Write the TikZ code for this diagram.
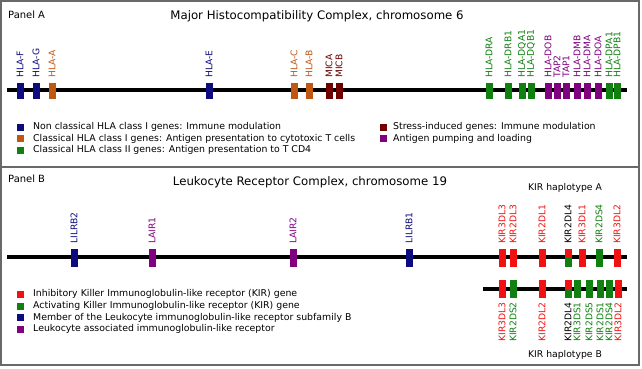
\documentclass[tikz,border=0pt]{standalone}
\usepackage{fontspec}
\setmainfont{DejaVu Sans}
\definecolor{cblue}{RGB}{12,12,128}
\definecolor{corange}{RGB}{192,88,20}
\definecolor{cgreen}{RGB}{16,128,16}
\definecolor{cmaroon}{RGB}{110,0,0}
\definecolor{cpurple}{RGB}{128,0,128}
\definecolor{cred}{RGB}{240,18,18}
\definecolor{cframe}{RGB}{105,105,105}
\begin{document}
\begin{tikzpicture}[x=1bp,y=-1bp,
  frame/.style={draw=cframe, line width=1.5bp},
  chrom/.style={draw=black, line width=4bp},
  gboxA/.style={inner sep=0pt, minimum width=7bp, minimum height=16bp},
  gboxB/.style={inner sep=0pt, minimum width=7bp, minimum height=18bp},
  fblue/.style={fill=cblue},
  fpurple/.style={fill=cpurple},
  fred/.style={fill=cred},
  fgreen/.style={fill=cgreen},
  gsplit/.style={fill=cgreen, path picture={\fill[cred] (path picture bounding box.north west) rectangle (path picture bounding box.east);}},
  glabel/.style={inner sep=0pt, rotate=90, font=\fontsize{9.2}{10}\selectfont},
  title/.style={inner sep=0pt, font=\fontsize{11.8}{14}\selectfont},
  panel/.style={inner sep=0pt, anchor=west, font=\fontsize{10}{12}\selectfont},
  hap/.style={inner sep=0pt, font=\fontsize{9.3}{11}\selectfont},
  legsq/.style={inner sep=0pt, minimum size=7bp},
  legtxt/.style={inner sep=0pt, anchor=west, font=\fontsize{9.4}{11}\selectfont}]
\useasboundingbox (0,0) rectangle (642,368);
% frame
\draw[frame] (1,1) rectangle (639,365);
\coordinate (dl) at (1,167);
\coordinate (dr) at (639,167);
\draw[frame] (dl) -- (dr);

% ---------------- Panel A ----------------
\node[panel] (pA) at (8,15) {Panel A};
\node[title] (tA) at (317,16) {Major Histocompatibility Complex, chromosome 6};
\coordinate (a0) at (7,90);
\coordinate (a1) at (627,90);
\draw[chrom] (a0) -- (a1);
\foreach \x/\c/\t [count=\i] in {20/cblue/HLA-F, 36/cblue/HLA-G, 52/corange/HLA-A, 209/cblue/HLA-E,
  294/corange/HLA-C, 309/corange/HLA-B, 329/cmaroon/MICA, 339/cmaroon/MICB,
  489/cgreen/HLA-DRA, 508/cgreen/HLA-DRB1, 522/cgreen/HLA-DQA1, 531/cgreen/HLA-DQB1,
  548/cpurple/HLA-DOB, 557/cpurple/TAP2, 566/cpurple/TAP1, 577/cpurple/HLA-DMB,
  587/cpurple/HLA-DMA, 598/cpurple/HLA-DOA, 609/cgreen/HLA-DPA1, 617/cgreen/HLA-DPB1}{
  \node[gboxA, fill=\c] (ga\i) at (\x,91) {};
  \node[glabel, anchor=west, text=\c] (la\i) at (\x,78) {\t};
}
% legend A
\foreach \y/\c/\t [count=\i] in {127/cblue/{Non classical HLA class I genes: Immune modulation},
  138.5/corange/{Classical HLA class I genes: Antigen presentation to cytotoxic T cells},
  150/cgreen/{Classical HLA class II genes: Antigen presentation to T CD4}}{
  \node[legsq, fill=\c] (sqa\i) at (20,\y) {};
  \node[legtxt] (lta\i) at (33,\y) {\t};
}
\foreach \y/\c/\t [count=\i] in {127/cmaroon/{Stress-induced genes: Immune modulation},
  138.5/cpurple/{Antigen pumping and loading}}{
  \node[legsq, fill=\c] (sqb\i) at (383,\y) {};
  \node[legtxt] (ltb\i) at (393,\y) {\t};
}

% ---------------- Panel B ----------------
\node[panel] (pB) at (8,179) {Panel B};
\node[title] (tB) at (310,182) {Leukocyte Receptor Complex, chromosome 19};
\node[hap] (hA) at (565,188) {KIR haplotype A};
\coordinate (b0) at (7,257);
\coordinate (b1) at (627,257);
\draw[chrom] (b0) -- (b1);
\foreach \x/\s/\c/\t [count=\i] in {74/fblue/cblue/LILRB2, 152/fpurple/cpurple/LAIR1,
  293/fpurple/cpurple/LAIR2, 409/fblue/cblue/LILRB1,
  502/fred/cred/KIR3DL3, 513/fred/cred/KIR2DL3, 542/fred/cred/KIR2DL1,
  568/gsplit/black/KIR2DL4, 582/fred/cred/KIR3DL1, 599/fgreen/cgreen/KIR2DS4,
  617/fred/cred/KIR3DL2}{
  \node[gboxB, \s] (gb\i) at (\x,258) {};
  \node[glabel, anchor=west, text=\c] (lb\i) at (\x,244) {\t};
}
% haplotype B
\coordinate (c0) at (483,289);
\coordinate (c1) at (627,289);
\draw[chrom] (c0) -- (c1);
\foreach \x/\s/\c/\t [count=\i] in {502/fred/cred/KIR3DL3, 513/fgreen/cgreen/KIR2DS2,
  542/fred/cred/KIR2DL2, 568/gsplit/black/KIR2DL4, 577/fgreen/cgreen/KIR3DS1,
  589/fgreen/cgreen/KIR2DS5, 600/fgreen/cgreen/KIR2DS1, 609/fgreen/cgreen/KIR2DS4,
  618/fred/cred/KIR3DL2}{
  \node[gboxB, \s] (gc\i) at (\x,289) {};
  \node[glabel, anchor=east, text=\c] (lc\i) at (\x,302) {\t};
}
\node[hap] (hB) at (565,355) {KIR haplotype B};
% legend B
\foreach \y/\c/\t [count=\i] in {294/cred/{Inhibitory Killer Immunoglobulin-like receptor (KIR) gene},
  306/cgreen/{Activating Killer Immunoglobulin-like receptor (KIR) gene},
  317.5/cblue/{Member of the Leukocyte immunoglobulin-like receptor subfamily B},
  329/cpurple/{Leukocyte associated immunoglobulin-like receptor}}{
  \node[legsq, fill=\c] (sqc\i) at (20,\y) {};
  \node[legtxt] (ltc\i) at (33,\y) {\t};
}
\end{tikzpicture}
\end{document}
